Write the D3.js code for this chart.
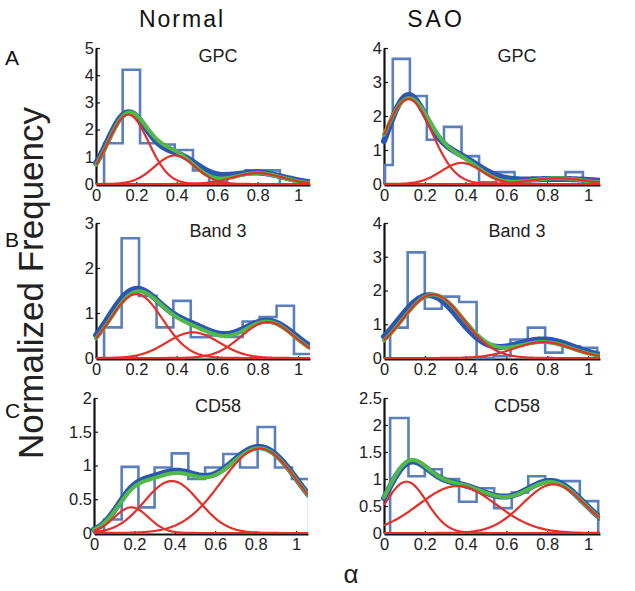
<!DOCTYPE html>
<html><head><meta charset="utf-8">
<script src="https://cdn.jsdelivr.net/npm/d3@7"></script>
<style>body{margin:0;background:#fff}svg{display:block}</style>
</head><body>
<script>
// ---------------- DATA ----------------
const columnTitles = ["Normal", "SAO"];
const rowLetters = ["A", "B", "C"];
const panelTitles = ["GPC", "Band 3", "CD58"];
const xTickValues = [0, 0.2, 0.4, 0.6, 0.8, 1];

// Row A (GPC)
const normalA_yTicks = [0, 1, 2, 3, 4, 5];
const normalA_edges = [0.04, 0.132, 0.218, 0.304, 0.39, 0.48, 0.56, 0.65, 0.74, 0.82, 0.91];
const normalA_heights = [1.5, 4.2, 1.5, 1.45, 1.25, 0.5, 0.08, 0.4, 0.5, 0.5];
const normalA_red = [[2.55, 0.16, 0.1], [1.05, 0.39, 0.1], [0.4, 0.8, 0.12]];
const normalA_blue = [[2.55, 0.155, 0.1], [1.0, 0.4, 0.11], [0.42, 0.79, 0.14]];

const saoA_yTicks = [0, 1, 2, 3, 4];
const saoA_edges = [0.005, 0.043, 0.127, 0.21, 0.294, 0.38, 0.466, 0.55, 0.64, 0.72, 0.80, 0.89, 0.975];
const saoA_heights = [0.56, 3.68, 2.59, 1.3, 1.68, 0.82, 0.05, 0.35, 0.15, 0.12, 0.12, 0.35];
const saoA_red = [[2.5, 0.12, 0.115], [0.62, 0.38, 0.1], [0.17, 0.85, 0.13]];
const saoA_blue = [[2.4, 0.11, 0.095], [0.85, 0.33, 0.13], [0.15, 0.85, 0.22]];

// Row B (Band 3)
const normalB_yTicks = [0, 1, 2, 3];
const normalB_edges = [0.04, 0.127, 0.213, 0.30, 0.383, 0.469, 0.555, 0.64, 0.726, 0.81, 0.894, 0.98, 1.07];
const normalB_heights = [0.68, 2.66, 1.38, 0.68, 1.27, 0.46, 0.5, 0.47, 0.81, 0.91, 1.16, 0.09];
const normalB_red = [[1.42, 0.2, 0.13], [0.57, 0.48, 0.13], [0.8, 0.85, 0.13]];
const normalB_blue = [[1.47, 0.19, 0.13], [0.62, 0.47, 0.13], [0.82, 0.85, 0.14]];

const saoB_yTicks = [0, 1, 2, 3, 4];
const saoB_edges = [0.03, 0.116, 0.2, 0.283, 0.368, 0.454, 0.537, 0.62, 0.705, 0.79, 0.875, 0.96, 1.045];
const saoB_heights = [0.9, 3.13, 1.46, 1.82, 1.66, 0.0, 0.05, 0.55, 0.9, 0.16, 0.35, 0.3];
const saoB_red = [[1.88, 0.24, 0.15], [0.47, 0.78, 0.14]];
const saoB_blue = [[1.86, 0.22, 0.15], [0.55, 0.78, 0.15]];

// Row C (CD58)
const normalC_yTicks = [0, 0.5, 1, 1.5, 2];
const normalC_edges = [0.05, 0.137, 0.22, 0.30, 0.385, 0.467, 0.55, 0.64, 0.723, 0.81, 0.896, 0.98, 1.065];
const normalC_heights = [0.2, 0.98, 0.38, 0.97, 1.18, 0.8, 0.97, 1.17, 0.97, 1.57, 0.97, 0.8];
const normalC_red = [[0.38, 0.185, 0.085], [0.77, 0.385, 0.136], [1.25, 0.82, 0.19]];
const normalC_blue = [[0.4, 0.185, 0.085], [0.8, 0.385, 0.136], [1.27, 0.82, 0.19]];

const saoC_yTicks = [0, 0.5, 1, 1.5, 2, 2.5];
const saoC_edges = [0.03, 0.12, 0.2, 0.283, 0.368, 0.454, 0.54, 0.626, 0.707, 0.79, 0.88, 0.96, 1.05];
const saoC_heights = [2.13, 1.05, 1.18, 1.0, 0.58, 0.83, 0.46, 0.75, 1.05, 0.96, 0.96, 0.59];
const saoC_red = [[0.95, 0.11, 0.1], [0.87, 0.36, 0.19], [0.9, 0.83, 0.15]];
const saoC_blue = [[0.92, 0.11, 0.1], [0.87, 0.36, 0.19], [0.92, 0.83, 0.15]];

// ---------------- DRAWING ----------------
const W = 635, H = 591;
const FONT = "'Liberation Sans', Arial, Helvetica, sans-serif";
const COL_HIST = "#5b7fbc", COL_BLUE = "#2a56b4", COL_GREEN = "#52b848", COL_RED = "#e5302a";

const svg = d3.select("body").append("svg").attr("width", W).attr("height", H)
  .style("font-family", FONT);
svg.append("rect").attr("width", W).attr("height", H).attr("fill", "#fff");

const panels = [
  {row: 0, col: 0, yTicks: normalA_yTicks, edges: normalA_edges, heights: normalA_heights, red: normalA_red, blue: normalA_blue},
  {row: 0, col: 1, yTicks: saoA_yTicks, edges: saoA_edges, heights: saoA_heights, red: saoA_red, blue: saoA_blue},
  {row: 1, col: 0, yTicks: normalB_yTicks, edges: normalB_edges, heights: normalB_heights, red: normalB_red, blue: normalB_blue},
  {row: 1, col: 1, yTicks: saoB_yTicks, edges: saoB_edges, heights: saoB_heights, red: saoB_red, blue: saoB_blue},
  {row: 2, col: 0, yTicks: normalC_yTicks, edges: normalC_edges, heights: normalC_heights, red: normalC_red, blue: normalC_blue},
  {row: 2, col: 1, yTicks: saoC_yTicks, edges: saoC_edges, heights: saoC_heights, red: saoC_red, blue: saoC_blue}
];

// layout (pixel geometry)
const colX0 = [96, 384], colUnit = [202, 204], colX1 = [310, 600];
const rowTop = [48, 223, 398], rowBot = [184, 358, 533];

const gauss = (x, c) => c[0] * Math.exp(-((x - c[1]) ** 2) / (2 * c[2] * c[2]));

panels.forEach((p, i) => {
  const shift = (p.row === 2 && p.col === 0) ? 2 : 0;
  const x0 = colX0[p.col] - shift;
  const x1 = colX1[p.col] - shift;
  const xEnd = (x1 - x0) / colUnit[p.col];
  const x = d3.scaleLinear().domain([0, xEnd]).range([x0, x1]);
  const ymax = p.yTicks[p.yTicks.length - 1];
  const y = d3.scaleLinear().domain([0, ymax]).range([rowBot[p.row], rowTop[p.row]]);

  const g = svg.append("g");
  const clipId = "clip" + i;
  svg.append("clipPath").attr("id", clipId).append("rect")
    .attr("x", x0 - 6).attr("y", rowTop[p.row] - 10).attr("width", x1 - x0 + 6).attr("height", rowBot[p.row] - rowTop[p.row] + 16);

  // axes
  const yAxis = d3.axisLeft(y).tickValues(p.yTicks).tickSize(-4).tickSizeOuter(0).tickPadding(2)
    .tickFormat(d => String(d));
  const xAxis = d3.axisBottom(x).tickValues(xTickValues).tickSize(-3).tickSizeOuter(0).tickPadding(4)
    .tickFormat(d => String(d));
  const gx = g.append("g").attr("transform", `translate(0,${rowBot[p.row] + 1})`).call(xAxis);
  const gy = g.append("g").attr("transform", `translate(${x0},0)`).call(yAxis);
  [gx, gy].forEach(a => {
    a.select(".domain").attr("stroke", "#111").attr("stroke-width", 2.2);
    a.selectAll(".tick line").attr("stroke", "#111").attr("stroke-width", 1.2);
    a.selectAll(".tick text").attr("fill", "#222").style("font-size", "16.5px").style("font-family", FONT);
  });

  const plot = g.append("g").attr("clip-path", `url(#${clipId})`);

  // histogram stairs
  const pts = [[p.edges[0], 0]];
  p.heights.forEach((h, k) => { pts.push([p.edges[k], h]); pts.push([p.edges[k + 1], h]); });
  pts.push([p.edges[p.edges.length - 1], 0]);
  plot.append("path").datum(pts)
    .attr("d", d3.line().x(d => x(d[0])).y(d => y(d[1])))
    .attr("fill", "none").attr("stroke", COL_HIST).attr("stroke-width", 2.6).attr("stroke-linejoin", "miter");

  const xs = d3.range(0, xEnd + 0.0025, 0.005);
  const line = d3.line().x(d => x(d[0])).y(d => y(d[1])).curve(d3.curveLinear);

  // blue fit
  plot.append("path").datum(xs.map(v => [v, d3.sum(p.blue, c => gauss(v, c))]))
    .attr("d", line).attr("fill", "none").attr("stroke", COL_BLUE).attr("stroke-width", 6).attr("stroke-linecap", "round");
  // green sum of components
  plot.append("path").datum(xs.map(v => [v, d3.sum(p.red, c => gauss(v, c))]))
    .attr("d", line).attr("fill", "none").attr("stroke", COL_GREEN).attr("stroke-width", 4).attr("stroke-linecap", "round");
  // red components
  p.red.forEach(c => {
    plot.append("path").datum(xs.map(v => [v, gauss(v, c)]))
      .attr("d", line).attr("fill", "none").attr("stroke", COL_RED).attr("stroke-width", 2.2);
  });

  // title
  svg.append("text").attr("x", p.col === 0 ? 218 : 517).attr("y", rowTop[p.row] + 14)
    .attr("text-anchor", "middle").style("font-size", "18px").attr("fill", "#222").text(panelTitles[p.row]);
});

// column titles
svg.append("text").attr("x", 182).attr("y", 27).attr("text-anchor", "middle")
  .style("font-size", "23px").style("letter-spacing", "2px").attr("fill", "#111").text(columnTitles[0]);
svg.append("text").attr("x", 436).attr("y", 27).attr("text-anchor", "middle")
  .style("font-size", "23px").style("letter-spacing", "3px").attr("fill", "#111").text(columnTitles[1]);

// row letters
const letterY = [65, 247, 418];
rowLetters.forEach((L, k) => {
  svg.append("text").attr("x", 5).attr("y", letterY[k]).style("font-size", "21px").attr("fill", "#111").text(L);
});

// y label
svg.append("text").attr("transform", "translate(43,283) rotate(-90)").attr("text-anchor", "middle")
  .style("font-size", "35px").attr("fill", "#222").text("Normalized Frequency");

// x label
svg.append("text").attr("x", 351).attr("y", 583).attr("text-anchor", "middle")
  .style("font-size", "26px").attr("fill", "#222").text("α");
</script>
</body></html>
